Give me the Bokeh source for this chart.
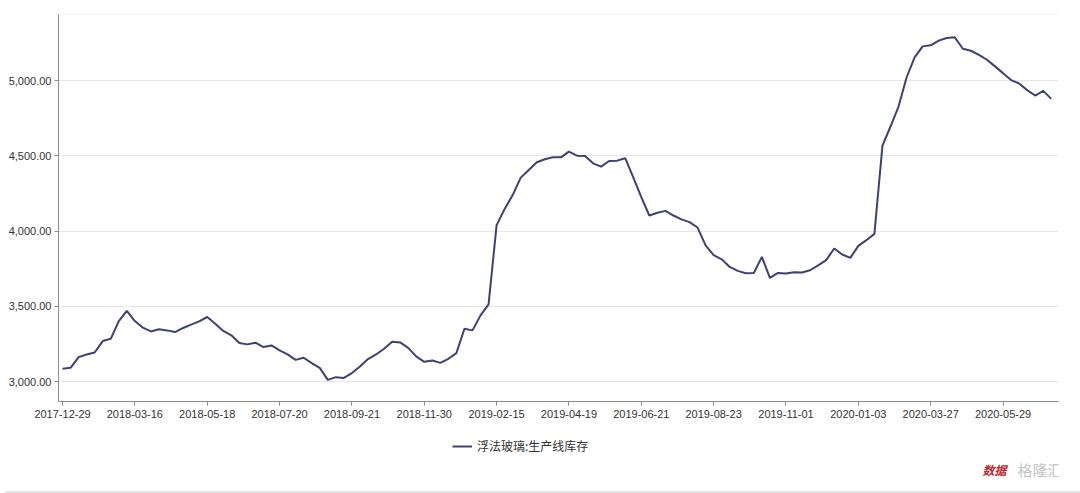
from bokeh.plotting import figure
from bokeh.layouts import column
from bokeh.models import (FixedTicker, NumeralTickFormatter, Legend, LegendItem, Span,
                          Range1d, Label, Div, ColumnDataSource)
from bokeh.embed import file_html
from bokeh.resources import INLINE

# weekly series: 浮法玻璃:生产线库存 (index = week number in data)
values = [
    3085, 3091, 3162, 3180, 3193, 3269, 3284, 3402, 3469, 3402,
    3358, 3333, 3347, 3340, 3329, 3356, 3378, 3400, 3429, 3384,
    3336, 3307, 3256, 3247, 3258, 3229, 3240, 3207, 3180, 3144,
    3158, 3122, 3091, 3011, 3029, 3024, 3056, 3100, 3149, 3180,
    3218, 3264, 3260, 3224, 3167, 3131, 3140, 3124, 3151, 3189,
    3351, 3340, 3440, 3513, 4040, 4147, 4240, 4356, 4407, 4458,
    4478, 4491, 4491, 4529, 4502, 4500, 4451, 4429, 4467, 4469,
    4485, 4358, 4227, 4104, 4122, 4135, 4104, 4078, 4060, 4024,
    3905, 3840, 3813, 3762, 3736, 3720, 3722, 3829, 3689, 3722,
    3718, 3727, 3725, 3740, 3773, 3807, 3885, 3845, 3822, 3902,
    3940, 3982, 4569, 4696, 4829, 5022, 5156, 5229, 5236, 5267,
    5285, 5289, 5213, 5200, 5173, 5140, 5096, 5051, 5005, 4982,
    4938, 4902, 4933, 4880,
]
x_index = list(range(len(values)))

tick_labels = [
    "2017-12-29", "2018-03-16", "2018-05-18", "2018-07-20", "2018-09-21",
    "2018-11-30", "2019-02-15", "2019-04-19", "2019-06-21", "2019-08-23",
    "2019-11-01", "2020-01-03", "2020-03-27", "2020-05-29",
]
tick_positions = [0, 9, 18, 27, 36, 45, 54, 63, 72, 81, 90, 99, 108, 117]
y_ticks = [3000, 3500, 4000, 4500, 5000]
series_name = "浮法玻璃:生产线库存"
source_label = "数据"
brand_label = "格隆汇"

LINE = "#3d4274"
FONT = "Liberation Sans"
CJK = "Noto Sans CJK SC"

src = ColumnDataSource(data=dict(x=x_index, y=values))

p = figure(
    output_backend="svg", toolbar_location=None,
    width=1080, height=428,
    min_border_left=58, min_border_right=22, min_border_top=14, min_border_bottom=27,
    x_range=Range1d(-0.5, 123.9), y_range=Range1d(2867, 5441),
)
p.outline_line_color = None
p.background_fill_color = "white"
p.border_fill_color = "white"

r = p.line("x", "y", source=src, line_color=LINE, line_width=2)

p.xaxis.ticker = FixedTicker(ticks=tick_positions)
p.xaxis.major_label_overrides = {t: l for t, l in zip(tick_positions, tick_labels)}
p.yaxis.ticker = FixedTicker(ticks=y_ticks)
p.yaxis.formatter = NumeralTickFormatter(format="0,0.00")
for ax in (p.xaxis[0], p.yaxis[0]):
    ax.axis_line_color = "#8a8a8a"
    ax.axis_line_width = 1
    ax.major_tick_line_color = "#8a8a8a"
    ax.minor_tick_line_color = None
    ax.major_tick_in = 0
    ax.major_tick_out = 4
    ax.major_label_text_font = FONT
    ax.major_label_text_font_size = "11px"
    ax.major_label_text_color = "#333333"
    ax.major_label_standoff = 3
p.xaxis.major_label_standoff = 4

p.xgrid.grid_line_color = None
p.ygrid.ticker = FixedTicker(ticks=y_ticks)
p.ygrid.grid_line_color = "#e6e6e6"
p.ygrid.grid_line_width = 1

top_line = Span(location=5441, dimension="width", line_color="#e6e6e6", line_width=1)
p.add_layout(top_line)

# legend strip below the chart (x in page pixels, y down from strip top)
p2 = figure(
    output_backend="svg", toolbar_location=None,
    width=1080, height=58, min_border=0,
    x_axis_type=None, y_axis_type=None,
    x_range=Range1d(59, 1059), y_range=Range1d(58, 0),
)
p2.outline_line_color = None
p2.xgrid.grid_line_color = None
p2.ygrid.grid_line_color = None
p2.background_fill_color = "white"
p2.border_fill_color = "white"
# proxy renderer for the legend sample (same data, falls outside this strip's view)
r2 = p2.line("x", "y", source=src, line_color=LINE, line_width=2)

legend = Legend(items=[LegendItem(label=series_name, renderers=[r2])],
                orientation="horizontal", location=(394, 32),
                label_text_font=CJK, label_text_font_size="12px",
                label_text_color="#333333", glyph_width=20, glyph_height=12,
                border_line_color=None, background_fill_alpha=0,
                margin=0, padding=4, label_standoff=5, spacing=0)
p2.add_layout(legend, "center")

wm1 = Label(x=983, y=41, text=source_label, text_font=CJK, text_font_size="12px",
            text_color="#c0282d", text_font_style="bold italic",
            text_baseline="middle")
wm2 = Label(x=1018, y=41, text=brand_label, text_font=CJK, text_font_size="15px",
            text_color="#c4c4c4", text_baseline="middle")
p2.add_layout(wm1)
p2.add_layout(wm2)

band = Div(text="", width=1080, height=7,
           styles={"background-color": "#e6e6e6"})

layout = column(p, p2, band, spacing=0)
html = file_html(layout, INLINE)
open("out.html", "w").write(html)
